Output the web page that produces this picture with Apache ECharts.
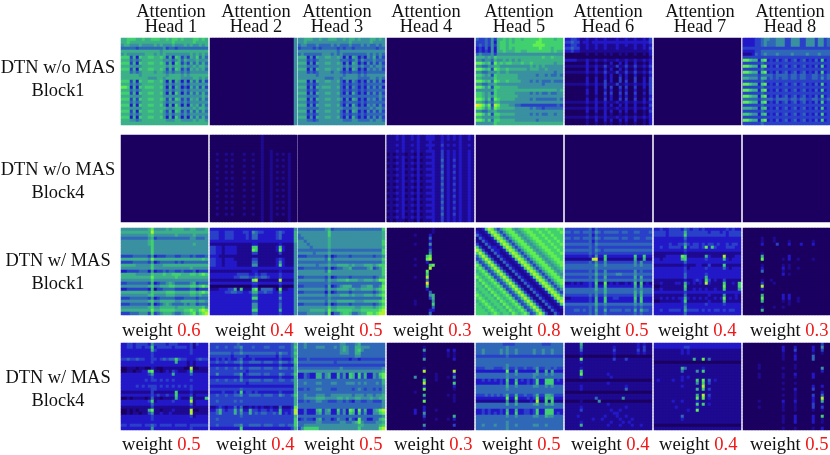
<!DOCTYPE html>
<html>
<head>
<meta charset="utf-8">
<title>Attention heads</title>
<script src="https://cdn.jsdelivr.net/npm/echarts@6/dist/echarts.min.js"></script>
<style>
  html, body { margin: 0; padding: 0; background: #fff; }
  #main { width: 830px; height: 455px; }
</style>
</head>
<body>
<div id="main"></div>
<script>
const headNames = ['Head 1', 'Head 2', 'Head 3', 'Head 4', 'Head 5', 'Head 6', 'Head 7', 'Head 8']
const rowNames = ['DTN w/o MAS\nBlock1', 'DTN w/o MAS\nBlock4', 'DTN w/ MAS\nBlock1', 'DTN w/ MAS\nBlock4']
const weightsBlock1 = ['0.6', '0.4', '0.5', '0.3', '0.8', '0.5', '0.4', '0.3']
const weightsBlock4 = ['0.5', '0.4', '0.5', '0.3', '0.5', '0.4', '0.4', '0.5']

// 每个单元格一个等级 0-a（36进制），从图上估读，空格只是为了好数
const noMasB1H1 = ['66777 66766 77766 76776 76667 7676', '66766 66666 66666 66766 66667 6666', '56655 56555 56565 55655 56565 5656', '44444 34444 44445 34434 44444 4444', '66666 66666 66656 66666 66666 6666', '56555 55566 65656 55555 55565 6565', '77736 27667 76676 36276 35365 7464', '66645 45666 66665 55456 46555 6555', '77736 27667 76676 36276 35364 6464', '66655 55666 66666 56566 56556 5665', '77736 27667 76676 36376 35365 6564', '66645 45666 65665 45455 45455 5555', '66666 65666 66666 56666 56566 6666', '66666 66665 55665 66666 55556 6565', '77736 27667 76675 26265 25264 6363', '66645 45666 66665 45455 45455 5555', '88726 27677 76675 26265 24264 6363', '66645 45666 66665 45455 45455 5555', '77736 27667 76675 26275 25364 6464', '66655 55666 66665 55555 55555 5565', '77736 37667 76676 36376 35365 6464', '66645 45666 66665 45555 45455 5555', '77726 27667 76675 26275 25265 6464', '66655 55666 66666 55566 55556 5665', '77736 27667 76675 36276 35364 6464', '66645 45666 66665 45455 45455 5555', '77726 27667 76675 26275 25264 6464', '66655 45666 66666 55566 55556 5665', '66666 66666 66666 66666 66666 6666']
const noMasB1H2 = ['00000 00000 00000 00000 00000 0005']
const noMasB1H3 = ['55666 55655 66655 65665 65556 6565', '55655 55555 55555 55655 55556 5555', '45544 45444 45454 44544 45454 4545', '34444 34344 44434 34434 44444 4344', '55555 55555 55545 55555 55555 5555', '45444 44455 54545 44444 44454 5454', '66625 26556 65565 25265 24254 6353', '55534 34555 55554 44345 35444 5444', '66625 26556 65565 25265 24253 5353', '55544 44555 55555 45455 45445 4554', '66625 26556 65565 25265 24254 5453', '55534 34555 54554 34344 34344 4444', '55555 54555 55555 45555 45455 5555', '55555 55554 44554 55555 44445 5454', '66625 26556 65564 25254 24253 5352', '55534 34555 55554 34344 34344 4444', '66625 26566 65564 25254 24253 5352', '55534 34555 55554 34344 34344 4444', '66625 26556 65564 25264 24253 5353', '55544 44555 55554 44444 44444 4454', '66625 26556 65565 25265 24254 5353', '55534 34555 55554 34444 34344 4444', '66625 26556 65564 25264 24254 5353', '55544 44555 55555 44455 44445 4554', '66625 26556 65564 25265 24253 5353', '55534 34555 55554 34344 34344 4444', '66625 26556 65564 25264 24253 5353', '55544 34555 55555 44455 44445 4554', '55555 55555 55555 55555 55555 5555']
const noMasB1H4 = ['0']
const noMasB1H5 = ['43343 53667 67677 67777 78777 7677', '33343 52677 67677 77777 88777 7777', '34343 53677 67777 77778 88877 7777', '23242 52677 67677 77777 78777 6777', '23232 52667 66677 66777 77777 6766', '45444 53555 55555 55555 55555 5555', '66656 57666 66666 66666 66766 7666', '55455 46556 56565 66666 66666 6666', '88767 38676 77666 76676 66666 6566', '55445 56655 55555 55565 65655 5555', '88767 38766 76666 66566 65565 5555', '55445 55655 65555 55555 55555 5455', '77656 37666 66665 55555 45545 4454', '66555 57666 66665 55555 55555 5555', '88767 48766 76666 55545 45444 5444', '55445 56555 55555 55555 55455 5555', '88757 37766 66665 55555 55555 5555', '55555 57666 66666 66666 66666 6656', '77656 37666 66655 55545 45445 4455', '77656 57666 66665 55555 55555 5555', '88757 38766 66655 55545 44444 4454', '66545 46655 55555 55555 55555 5555', 'a9868 39866 65544 33333 33333 3343', '88757 48766 66655 55545 44344 4444', '55445 56555 55555 55555 55555 5555', '88757 37766 66655 55545 45445 5455', '66555 56655 55555 55555 55555 5555', '88757 47766 66655 55555 45555 5555', '55555 57666 66666 66666 66666 6666']
const noMasB1H6 = ['22332 11211 21121 11211 21121 1213', '33433 12212 22222 22222 22222 2223', '22332 11211 21121 11211 21121 1212', '33433 11211 21121 11211 11121 1213', '22322 11111 11111 11111 11111 1112', '00000 00100 10010 10010 10010 0102', '00000 00000 00000 00000 00000 0001', '22221 11211 21121 11211 21121 1212', '00000 00200 10010 20020 20020 0102', '11111 11211 21131 11311 31131 1213', '00000 00200 20020 20020 20020 0102', '11111 11211 21131 11311 31131 1213', '00000 00100 10020 20020 20020 0102', '00000 00200 20020 20030 20030 0203', '00000 00200 20030 20030 30030 0203', '11111 11211 21131 11311 21121 1213', '00000 00100 20030 30030 30030 0203', '00000 00200 20020 20020 20020 0103', '00000 00200 20030 30030 30030 0203', '00000 00100 10020 20020 20020 0102', '00000 00200 20030 20030 30030 0203', '11111 11211 21121 11211 21121 1212', '00000 00100 20020 20020 20020 0103', '11111 11211 21121 11211 21121 1212', '00000 00200 20020 20020 20020 0103', '00000 00100 10020 10010 10010 0102', '11111 11211 21121 11211 21121 1212', '00000 00100 20020 20020 20020 0102', '00000 00100 10010 10010 10010 0102']
const noMasB1H7 = ['0']
const noMasB1H8 = ['22223 34554 45553 35553 35553 5534', '22223 34544 45553 35553 35553 5534', '22223 34544 45553 35553 35553 5534', '33333 33333 33333 33333 33333 3333', '22223 34444 44444 44444 44444 4444', '11124 34544 45444 45444 45444 5444', '33333 33333 33333 33333 33333 3333', '88766 27823 24234 23423 42324 2723', '33333 34333 33333 33333 33333 3333', '88766 27823 24234 23423 42324 2723', '33333 34333 33333 33333 33333 3333', '88766 27823 24234 23423 42324 2723', '44444 34444 34444 34434 43344 3434', '66555 36634 34344 34434 43344 3534', '33333 34333 33333 33333 33333 3333', '88766 27823 24234 23423 42324 2723', '33333 34333 33333 33333 33333 3333', '88766 27823 24234 23423 42324 2723', '33333 34333 33333 33333 33333 3333', '88766 27823 24234 23423 42324 2723', '44444 34444 34444 34434 43344 3434', '88766 27823 24234 23423 42324 2723', '33333 34333 33333 33333 33333 3333', '66655 26723 24234 23423 42324 2723', '33333 34333 33333 33333 33333 3333', '77655 26723 24234 23423 42324 2723', '33333 33333 33333 33333 33333 3333', '88766 27823 24234 23423 42324 2723', '33333 34333 33333 33333 33333 3333']

const noMasB4H1 = ['0']
const noMasB4H2 = ['00000 00000 00000 00100 00000 0000', '00000 00000 00000 00100 00000 0000', '00000 00000 00000 00100 00000 0000', '00000 00000 00000 00100 00000 0000', '00000 00000 00000 00100 00000 0000', '00000 00000 00000 00100 10000 0000', '00100 10100 01001 00100 10101 0100', '00000 00000 00000 00100 10000 0100', '00100 10100 01001 00100 10101 0100', '00000 00000 00000 00100 10000 0100', '00100 10100 01001 00100 10101 0100', '00000 00000 00000 00100 10000 0100', '00100 10100 01001 00100 10101 0100', '00000 00000 00000 00100 10000 0100', '00100 10100 01001 00100 10101 0100', '00000 00000 00000 00100 10000 0100', '00100 10100 01001 00100 10101 0100', '00000 00000 00000 00100 10000 0100', '00100 10100 01001 00100 10101 0100', '00000 00000 00000 00100 10000 0100', '00100 10100 01001 00100 10101 0100', '00000 00000 00000 00100 10000 0100', '00100 10100 01001 00100 10101 0100', '00000 00000 00000 00100 10000 0100', '00100 10100 01001 00100 10101 0100', '00000 00000 00000 00100 10000 0100', '00100 10100 01001 00100 10101 0100', '00000 00000 00000 00100 10000 0100', '00000 00000 00000 00100 10000 0100']
const noMasB4H3 = ['0']
const noMasB4H4 = ['11121 21121 21122 21121 21212 1121', '11121 21121 21122 21121 21212 1121', '11111 21111 21112 11121 11112 1111', '11121 21121 21122 21131 21212 1121', '11111 21111 21112 11121 11112 1111', '11121 21121 21122 21131 21212 1121', '01011 10110 20111 21131 21212 1121', '11121 21121 21122 21131 21212 1121', '01011 20110 20111 21141 21312 1121', '11121 21121 21122 21131 21212 1121', '01011 20110 20111 21141 21312 1121', '11121 21121 21122 21131 21212 1121', '01011 20110 20111 21141 21312 1121', '11121 21121 21122 21131 21212 1121', '01011 20110 20111 21141 21312 1121', '11121 21121 21122 21131 21212 1121', '01011 20110 20111 21141 21312 1121', '11121 21121 21122 21131 21212 1121', '01011 20110 20111 21141 21312 1121', '11121 21121 21122 21131 21212 1121', '01011 20110 20111 21141 21312 1121', '11121 21121 21122 21131 21212 1121', '01011 20110 20111 21141 21312 1121', '11121 21121 21122 21131 21212 1121', '01011 20110 20111 21141 21312 1121', '11121 21121 21122 21131 21212 1121', '01011 20110 20111 21141 21312 1121', '11121 21121 21122 21131 21212 1121', '01011 10110 20111 21131 21212 1121']
const noMasB4H5 = ['0']
const noMasB4H6 = ['0']
const noMasB4H7 = ['0']
const noMasB4H8 = ['0']

const masB1H1 = ['55555 55556 85555 65666 65566 5556', '66666 66666 96666 66666 66666 6666', '55555 55556 75555 55565 55556 5555', '44444 44445 63444 44444 44455 4445', '55555 55556 75555 55555 55555 5555', '55555 55556 75555 55555 55556 5555', '55555 55555 75555 55555 55555 5555', '55555 55555 75555 55555 55555 5555', '55555 55555 75555 55555 55555 5555', '33334 44443 52333 44433 44434 3334', '66666 66665 86666 66666 66666 6676', '33334 44443 52344 44434 34444 4444', '66666 55555 75556 66666 66666 6666', '55555 55555 75555 55555 55565 5555', '22333 34442 52334 34433 43334 2333', '66666 55555 76667 66777 66677 6787', '66666 66666 86666 66676 66666 6666', '55555 55555 75555 55555 55555 5555', '33444 44443 62344 56544 44456 3444', '55555 55556 75566 67766 66677 6787', '22333 33332 61334 44433 33344 2333', '66666 66665 76666 77766 66677 6787', '55555 55556 75555 66655 55566 5655', '33344 44443 52344 44433 34444 3444', '55555 55556 75566 66655 66666 5665', '33344 44443 62345 65444 45455 3444', '55555 55556 75566 66656 66666 6675', '66666 66666 86677 77766 67787 6898', '33344 45553 73456 66544 56678 5789']
const masB1H2 = ['22222 22222 22222 22222 22222 2225', '33322 33322 23325 43322 22343 2226', '33322 33322 22324 42222 22342 2226', '33322 33322 22324 42222 22342 2226', '22222 22222 22222 22222 22222 2226', '11111 11111 11112 21111 11121 1115', '33221 22221 11117 71111 11272 1115', '33221 22221 11118 71111 11282 1115', '33221 22221 11113 31111 11131 1115', '22211 11111 11111 11111 11111 1115', '33221 22211 11113 31111 11232 1115', '33221 22221 11114 41111 11252 1115', '33221 22221 11115 51111 11272 1115', '22222 22222 22222 22222 22222 2225', '11111 11111 11112 21111 11121 1115', '22222 22223 33322 32332 22232 2225', '22222 22233 44433 43443 22232 2225', '11111 11111 11118 91111 11191 1115', '22222 22222 22223 32222 22232 2225', '00000 00000 00002 20000 00020 0005', '11122 23361 71117 81444 42081 1225', '22222 33443 32236 63343 32252 2225', '22222 22222 22224 42222 22232 2225', '22222 22222 22227 72222 22252 2225', '22222 22222 22223 32222 22232 2225', '22222 22222 22225 52222 22242 2225', '22222 22222 22225 52222 22242 2225', '22222 22222 22227 72222 22262 2225', '22222 22222 22224 42222 22232 2225']
const masB1H3 = ['44444 44445 63444 44444 44444 4447', '55555 55555 75555 55555 55555 5556', '45555 55555 75555 55555 55555 5556', '44555 55555 65555 55555 55555 5556', '55455 55555 65555 55555 55555 5557', '55545 55555 65555 55555 55555 5557', '55554 55555 65555 55555 55555 5556', '44444 44444 54444 44444 44444 4447', '55555 45555 65555 55555 55555 5557', '33344 44443 52344 44344 44444 3445', '55555 55554 74555 55555 55555 5557', '44444 44444 54444 44444 44444 4446', '55555 54555 65566 66565 55666 5677', '33444 44443 52344 55644 44456 3457', '55555 55554 75555 55555 55555 5557', '55555 55555 65555 55555 55555 5557', '33444 44443 52344 44344 44444 3456', '55555 55554 65566 67666 55666 5688', '44444 44444 54444 44444 44444 4447', '33444 44443 62345 66644 45566 4458', '55555 55554 65566 66565 56666 5678', '33444 44442 52344 44344 44444 3457', '55555 55554 65556 66565 55666 5678', '44444 44444 54444 44444 44444 4447', '55555 55554 65566 66665 55666 6678', '33444 44443 52344 44344 44444 3457', '55555 55555 75566 66665 56666 5678', '55556 66665 86677 77766 67777 7789', '44455 55554 82446 77644 56688 7899']
const masB1H4 = ['00000 00000 00000 10000 00000 0000', '00000 00000 00000 10000 00000 0000', '00000 00001 00002 00000 00000 0000', '00000 00000 00004 00000 00000 0000', '00000 00000 00002 00000 00000 0000', '00000 00001 00005 00000 00000 0000', '00000 00000 00002 00000 00000 0000', '00000 00000 00004 00000 00000 0000', '00000 00000 00005 00000 00000 0000', '00000 00000 00078 00000 00000 0000', '00000 00001 00089 00000 00000 0000', '00000 00000 00020 00000 00000 0000', '00000 00001 00007 80000 00000 0000', '00000 00000 00009 00000 00000 0000', '00000 00000 00080 00000 00000 0000', '00000 00000 00070 00000 00000 0000', '00000 00001 00090 00000 00000 0000', '00000 00000 00040 00000 00000 0000', '00000 00000 000a0 00000 00000 0000', '00000 00000 00070 00000 00000 0000', '00000 00000 00020 00000 00000 0000', '00000 00000 00004 00000 00000 0000', '00000 00000 00005 60000 00000 0000', '00000 00000 00003 60000 00000 0000', '00000 00001 00000 50000 00000 0000', '00000 00001 00000 70000 00000 0000', '00000 00000 00000 40000 00000 0000', '00000 00000 00002 20000 00000 0000', '00000 00000 00004 00000 00000 0000']
const masB1H5 = ['11279 85357 88656 78877 87787 7787', '21127 98535 78865 67887 78778 7778', '42112 79853 57886 56788 77877 8777', '14211 27985 35788 65678 87787 7877', '11421 12798 53578 86567 88778 7787', '31142 11279 85357 88656 78877 8778', '73114 22127 98535 78865 67887 7877', '97311 42212 79853 57886 56788 7787', '79731 14211 27985 35788 65678 8778', '47973 11421 12798 53578 86567 8877', '34797 31142 11279 85357 88656 7887', '63479 73114 21127 98535 78865 6788', '86347 97311 42112 79853 57886 5678', '78634 79731 14211 27985 35788 6567', '67863 47973 11421 12798 53578 8656', '76786 34797 31142 11279 85357 8865', '87678 63479 73114 21127 98535 7886', '68767 86347 97311 42112 79853 5788', '76876 78634 79731 14211 27985 3578', '77687 67863 47973 11421 12798 5357', '67768 76786 34797 31142 11279 8535', '76776 87678 63479 73114 21127 9853', '87677 68767 86347 97311 42112 7985', '78767 76876 78634 79731 14211 2798', '67876 77687 67863 47973 11421 1279', '76787 67768 76786 34797 31142 1127', '77678 76776 87678 63479 73114 2112', '77767 87677 68767 86347 97311 4211', '77776 78767 76876 78634 79731 1421']
const masB1H6 = ['33333 33342 43333 33333 33333 3333', '44344 34443 54344 44434 43344 3334', '33333 33342 43333 33333 33333 3333', '44344 34443 54344 44434 43344 3344', '33333 33342 43333 33333 33333 3333', '44444 44443 54444 44444 44444 4444', '33333 33343 43333 33333 33333 3333', '44444 44443 54344 44444 44444 4444', '33333 33343 43333 33333 33333 3333', '22222 22232 52272 22222 22272 2722', '11111 11119 a1171 11111 11161 1611', '33333 33343 53353 33333 33353 5333', '44444 44444 64454 44444 44454 5444', '44444 44444 54444 44444 44444 4444', '33333 33343 53353 33333 33353 4333', '44444 44444 64454 44554 44454 4444', '33333 33343 53363 33333 33363 6333', '44444 44444 64454 44444 44454 5444', '11212 12232 71181 21211 21271 7121', '22222 22232 62272 22222 22262 6222', '44444 44444 64464 44444 44454 5444', '44444 44444 54464 44444 44464 6444', '33333 33343 53353 33333 33363 6333', '11222 22232 62272 23322 22272 7222', '22222 22232 62272 22222 22262 7222', '44444 44444 64454 44444 44454 5444', '33333 33343 53343 33333 33343 4333', '33344 34343 63363 44443 44363 6443', '33333 33343 53343 33333 33343 4333']
const masB1H7 = ['22322 33332 43233 23222 22223 2322', '33332 33333 63333 33323 33232 3333', '33332 33333 73333 33333 33332 3333', '22222 22222 42222 22222 22222 2222', '22222 22222 32222 22222 22222 2222', '22222 32233 53233 23233 23223 2332', '22322 33332 72333 23827 32223 3322', '22222 22222 32222 22222 22222 2222', '11111 11111 21111 11111 11111 1111', '11112 22228 71111 11621 11191 1122', '22122 22226 72222 22322 22262 1222', '22222 22222 42222 22222 22222 2222', '11111 11111 21112 21131 11171 1111', '22222 22222 31222 22322 22242 1222', '22222 22222 32222 22222 22222 2222', '22222 22222 42222 22322 22222 2222', '22222 22222 42222 22622 22222 2222', '11111 11111 21123 21731 21131 1111', '11211 11221 62121 21921 11171 1217', '00111 11111 71111 11111 11181 1117', '11211 11111 61121 21211 21171 1115', '22222 22222 32222 22222 22222 2222', '11111 11111 41111 11121 11151 1121', '11212 12122 62121 21211 21281 2121', '00111 11112 71111 11121 11161 1111', '22222 22222 42222 22322 22232 2222', '22222 22222 52222 22222 22222 2222', '22322 33332 63333 23232 33232 3322', '22222 22222 42222 22222 22222 2222']
const masB1H8 = ['00000 00000 00000 00000 00000 0000', '00000 00000 00000 00000 00000 0000', '00000 00000 00000 00000 00000 0000', '00000 01000 10000 00000 00000 0000', '00000 01000 10000 10000 00010 0000', '00000 02000 03000 20002 00020 0000', '00000 00000 00000 00000 00000 0000', '00000 00000 00000 00000 00000 0000', '00000 01000 00000 00000 00000 0000', '00000 06000 00000 20000 00000 0000', '00000 08000 00010 20010 00010 0000', '00000 00000 00000 00000 00000 0000', '00000 01000 00010 10000 00000 0000', '00000 02000 00020 10010 00000 0000', '00000 04000 00010 00000 00000 0000', '00000 00000 00020 10000 00000 0000', '00000 00000 00000 00000 00000 0000', '00000 01001 00000 00000 00000 0000', '00000 03000 10000 00000 00000 0000', '00000 09000 00000 00000 00000 0000', '00000 02000 00000 00000 00000 0000', '00000 00000 00000 00000 00000 0000', '00000 06000 00020 20000 00000 0000', '00000 08000 00020 20010 00000 0000', '00000 06000 00010 10010 00000 0000', '00000 00000 00000 10000 00000 0000', '00000 01000 10010 00000 00000 0000', '00000 06000 00000 00000 00000 0000', '00000 00000 00000 00000 00000 0000']

const masB4H1 = ['22332 33332 53333 23332 22231 3222', '22332 33233 72333 33233 33231 2222', '22222 22222 63222 22222 22232 2222', '22222 22222 32222 22222 22232 2222', '22222 22222 32222 22222 22222 2222', '33433 43322 33234 34474 33222 3433', '22222 22222 32222 22262 22121 2222', '22222 22222 22222 22222 22121 2222', '00111 01100 21001 11111 10090 0111', '00110 11227 81101 21321 11271 1111', '22222 22223 52222 22622 22242 2222', '22222 22222 32222 22222 22222 2222', '22222 22232 33232 32322 22232 2222', '22222 22222 22222 22222 22222 2222', '22222 32323 33232 32323 23232 2222', '22222 22222 33222 22222 22232 2222', '11111 11111 31111 11171 11121 1111', '22222 22222 32322 32272 22231 2222', '00101 11101 41101 11162 11171 1117', '22222 22223 71222 22322 22291 2222', '22222 22222 42222 22222 22241 2222', '11111 11111 31111 11111 11121 1111', '00101 01116 81101 11211 11190 0111', '00101 10113 51121 12111 11191 1111', '22222 22222 32222 22222 22231 2222', '22222 22222 32222 22222 22222 2222', '22222 22222 22222 22222 22222 2222', '33233 33233 43233 33233 33233 3333', '22222 22222 52222 22222 22232 2222']
const masB4H2 = ['33333 33334 33333 33333 33333 3346', '33433 43344 53334 33344 33344 3347', '33333 33333 43333 33333 33333 3346', '44444 44344 54444 44444 44354 4347', '33333 33233 33233 33333 33243 3346', '22323 23223 42223 22222 22232 2237', '33433 43344 53344 44344 43354 4347', '22222 22222 32222 22222 22232 2226', '33433 43343 53344 44344 43354 4346', '33333 33333 33233 33333 33333 3336', '33533 33344 62344 44344 33354 3347', '22222 22222 42222 22222 22232 2226', '33433 43343 53344 44344 43344 3346', '33333 33333 33233 33333 33333 3336', '22222 22222 22222 22222 22222 2226', '33333 33333 43333 33333 33333 3336', '22223 22232 72332 32222 22232 2226', '33433 43344 53344 44344 43354 3347', '33333 33333 33333 33333 33333 3336', '33433 33343 43333 33333 33333 3336', '33333 33333 33333 33333 33333 3336', '11232 12242 41121 21211 21141 1128', '22463 23363 62263 32332 32262 2239', '33463 33363 53363 43443 34362 3239', '33333 33333 43333 33333 33333 3336', '33433 33333 33333 33333 33333 3337', '33333 33333 33333 33333 33333 3337', '33433 33344 53344 44344 43344 3447', '22222 22222 72222 22222 22222 2236']
const masB4H3 = ['44544 44444 44445 54445 64444 4444', '44544 45554 44545 65446 65554 4444', '44444 44444 44445 65446 75444 4444', '44444 44444 44445 55446 64444 4444', '44444 44444 44444 44445 54444 4444', '33343 33333 33333 33233 23333 3333', '44444 44444 44344 44444 44444 4444', '33333 33333 33333 33333 33333 3333', '44444 44444 44445 44444 44444 4445', '55555 55555 55555 55555 55555 5556', '22432 26635 62263 52762 73622 5478', '22432 26635 62263 52762 73622 5468', '44444 44444 44444 44444 44444 4446', '44544 45544 45544 45554 54544 4546', '44444 44444 44444 44444 44444 4445', '33434 45544 43344 44434 54344 3435', '44444 44444 44444 44444 44444 4445', '44544 45554 45555 55545 55455 4556', '44555 56665 55566 56556 65556 5566', '33434 45544 33344 34324 43344 3335', '44444 44444 44444 44444 44444 4445', '44444 44444 44444 44444 44444 4445', '22422 26735 62273 52872 83622 5689', '22422 25635 52263 52762 73522 5578', '44444 44444 44444 44444 44444 4445', '23433 25634 42354 42532 84422 4467', '44444 45544 44445 54456 85444 4556', '44555 55555 55555 55555 66555 5567', '35777 77555 55555 55555 75555 5589']
const masB4H4 = ['00000 00000 00000 00000 00000 0000', '00000 00000 00100 00000 00000 0000', '00000 00000 00500 00000 20200 0000', '00000 00000 00100 00000 10100 0000', '00000 00000 00100 00000 10100 0000', '00000 00000 00500 00000 00200 0000', '00000 00000 00000 00000 00000 0000', '00000 00000 00000 00000 00000 0000', '00000 00000 00100 00000 00000 0000', '00000 00000 00900 00000 00900 0000', '00000 00000 00000 01000 00200 0000', '00000 00005 00100 01000 10500 0000', '00000 00000 00700 01000 00100 0000', '00000 00000 00900 00000 00700 0000', '00000 00000 00200 00000 00200 0000', '00000 00000 00800 00000 00100 0000', '00000 00001 00000 00000 00000 0000', '00000 00000 00600 00000 10100 0000', '00000 00000 00100 00000 00100 0000', '00000 00000 00800 00000 00100 0000', '00000 00000 00000 00000 00000 0000', '00000 00000 00200 00000 00000 0000', '00000 00002 00200 01000 00000 0000', '00000 00002 00500 00000 00000 0000', '00000 00000 00300 00000 00600 0000', '00000 00000 00100 01000 10200 0000', '00000 00000 00000 00000 00000 0000', '00000 00000 00500 00000 00300 0000', '00000 00000 00100 00000 00000 0000']
const masB4H5 = ['44444 44443 33344 44444 44333 4444', '44444 44444 54444 44444 44444 4444', '44544 44454 54454 44445 44544 5444', '44544 44454 54454 44445 44544 5444', '33333 33333 43333 33333 33333 3333', '44444 44444 44444 44444 44444 4444', '44444 44444 44444 44444 44444 4444', '44444 44444 54444 44444 44444 4444', '33344 43334 53343 34334 53344 3433', '22222 22222 82262 22222 62262 6222', '44444 44444 54454 44445 54454 5444', '44444 44444 54444 44445 44444 4444', '22323 23232 72262 32323 72277 7232', '22222 22232 62272 22323 72277 7222', '44444 44444 64454 44445 54454 5444', '44444 44444 54444 44444 44444 4444', '44444 44444 44444 44444 44444 4444', '33343 43434 63363 34334 63366 5333', '22222 22222 82282 22323 82276 7222', '11111 11111 51151 11121 91171 7111', '44444 44444 64464 44445 64465 6444', '44444 44444 44444 44444 44444 4444', '22323 22232 62262 23323 72277 7222', '22323 23232 72272 23323 72277 7232', '44444 44444 54454 44445 54465 5444', '44444 44444 44444 44444 44444 4444', '44444 44444 54444 44444 44444 4444', '44544 45444 54454 44445 54454 4444', '44444 44444 54444 44444 44444 4444']
const masB4H6 = ['11111 61111 11111 11111 11112 1211', '11111 51111 11111 12111 11112 1311', '11111 41111 11111 13111 11113 1311', '11111 21111 11111 12111 11112 1211', '00000 10000 00000 01000 00000 0000', '11111 81111 11111 13111 31111 1111', '11111 21111 11111 11111 11111 1111', '11111 11111 11111 11111 11111 1111', '11111 21111 11111 11111 11111 1111', '11111 71111 11111 11111 11111 1111', '11111 81111 11112 11111 11111 1111', '11111 21111 11111 21111 11111 1111', '00000 00000 00000 00000 00000 0000', '11111 11111 11112 11111 11111 1111', '11111 21111 11111 11111 21111 1111', '11111 21111 11111 11111 41111 1111', '00000 00000 00000 00000 00000 0000', '11111 11111 11111 11111 11111 1111', '11111 11111 41111 11115 11111 1111', '00000 10000 05000 00000 00000 0000', '11111 11111 11112 11111 11111 1111', '11111 21111 11111 11111 21111 1111', '11111 31111 11111 21121 11111 1111', '11111 11111 11111 12211 11111 1111', '11112 11111 11121 11211 21111 1111', '11111 11112 11211 11121 11211 1111', '11111 21111 11111 21112 12111 1111', '11111 61111 11112 11121 11211 2111', '11111 11111 11111 11111 11111 1111']
const masB4H7 = ['22222 22222 22222 22222 22222 2222', '22222 22222 33222 22222 22222 2222', '11111 11112 12111 11111 11111 1111', '11111 11112 12111 11111 11111 1111', '11111 11111 11111 11111 11111 1111', '11111 11111 11161 18141 11111 1111', '00000 00000 00000 00000 00000 0000', '11111 11111 11111 11111 11111 1111', '11111 11116 41111 12111 11111 1111', '11111 11114 11115 17111 11111 1111', '11111 11111 11111 11111 11111 1111', '11111 11112 12111 11111 11111 1111', '12111 12112 11117 18141 21111 1111', '11111 11111 11115 17131 11111 1111', '11111 11112 11111 19111 11111 1111', '11111 11111 11116 17131 11111 1111', '11111 11111 11111 11111 11111 1111', '11111 11111 11116 19131 11111 1111', '11111 11111 11118 18121 11111 1111', '11111 12112 11112 11111 11111 1111', '11111 11111 11117 17121 11111 1111', '11111 11211 11112 11111 11111 1111', '11111 11111 12118 11111 11111 1111', '11111 11111 11111 11111 11111 1111', '11111 11114 11111 11111 11111 1111', '11111 11112 11111 11111 11111 1111', '11111 11111 11111 11111 11111 1111', '00000 00000 00000 00000 00000 0000', '11111 11111 11111 11111 11111 1111']
const masB4H8 = ['00000 00000 00000 00000 00000 0300', '00000 00000 00020 00200 00020 0500', '00000 00000 00020 00300 00020 0300', '00000 00000 00010 00100 00010 0100', '00000 00000 00010 00200 00040 0000', '00000 00000 00010 00200 00040 0000', '00000 00000 00000 00000 00000 0000', '00000 10000 00000 00100 00000 0000', '00000 10000 00010 00100 00000 0500', '00000 00000 00000 00000 00000 0200', '00000 10000 00010 00200 00020 0000', '00000 10000 00010 00100 00020 0000', '00000 00000 00000 00000 00000 0000', '00000 00000 00010 00100 00000 0000', '00000 00000 00000 00000 00020 0200', '00000 00000 00010 00200 00030 0000', '00000 00000 00000 00100 00000 0200', '00000 00000 00010 00100 00030 0400', '00000 00000 00000 00100 00020 0900', '00000 10000 00020 00200 00020 0600', '00000 00000 00010 00100 00030 0100', '00000 10000 00010 00100 00030 0300', '00000 00000 00010 00100 00010 0100', '00000 00000 00000 00000 00000 0000', '00000 00000 00010 00200 00020 0700', '00000 00000 00010 00200 00020 0100', '00000 00000 00010 00200 00020 0100', '00000 00000 00000 00000 00000 0000', '00000 00000 00010 00100 00010 0200']

const panels = [
  [noMasB1H1, noMasB1H2, noMasB1H3, noMasB1H4, noMasB1H5, noMasB1H6, noMasB1H7, noMasB1H8],
  [noMasB4H1, noMasB4H2, noMasB4H3, noMasB4H4, noMasB4H5, noMasB4H6, noMasB4H7, noMasB4H8],
  [masB1H1, masB1H2, masB1H3, masB1H4, masB1H5, masB1H6, masB1H7, masB1H8],
  [masB4H1, masB4H2, masB4H3, masB4H4, masB4H5, masB4H6, masB4H7, masB4H8]
]

const colLeft = [121, 210, 298, 387, 476, 565, 654, 743]
const rowTop = [38, 135, 228, 343]
const panelSize = 87
const headCenter = [171, 256, 337, 426, 519, 608, 700, 790]
const weightLeft3 = [122, 215, 304, 393, 482, 570, 658, 750]
const weightLeft4 = [122, 216, 304, 394, 482, 571, 659, 750]
const rowLabelTop = [56, 158, 249, 366]
const rowLabelCenter = [58, 58, 58, 58]
// 原图面板边缘的淡紫色细条 [行, 列, 边]
const edgeStrips = [[0, 1, 'right'], [0, 7, 'left'], [1, 2, 'left'], [1, 3, 'left'], [1, 0, 'bottom'], [1, 1, 'bottom'], [1, 2, 'bottom'], [2, 2, 'right'], [2, 6, 'right'], [3, 2, 'right'], [3, 6, 'right'], [3, 1, 'bottom']]
const serifFont = '"Liberation Serif", serif'

const grids = []
const xAxes = []
const yAxes = []
const series = []
panels.forEach((row, r) => {
  row.forEach((rows, c) => {
    const index = grids.length
    const lines = rows.map(line => line.replace(/ /g, ''))
    const cols = lines[0].length
    const cells = []
    lines.forEach((line, y) => {
      for (let x = 0; x < cols; x++) {
        cells.push([x, y, parseInt(line[x], 36)])
      }
    })
    grids.push({ left: colLeft[c], top: rowTop[r], width: panelSize, height: panelSize })
    xAxes.push({ type: 'category', gridIndex: index, show: false, data: Array.from({ length: cols }, (v, i) => i) })
    yAxes.push({ type: 'category', gridIndex: index, show: false, inverse: true, data: lines.map((v, i) => i) })
    series.push({ type: 'heatmap', xAxisIndex: index, yAxisIndex: index, data: cells, silent: true, progressive: 0, animation: false })
  })
})

const texts = []
headNames.forEach((name, i) => {
  texts.push({
    type: 'text', x: headCenter[i], y: 5,
    style: { text: 'Attention\n' + name, font: '18.4px ' + serifFont, fill: '#111', align: 'center', lineHeight: 15 }
  })
})
rowNames.forEach((name, i) => {
  texts.push({
    type: 'text', x: rowLabelCenter[i], y: rowLabelTop[i],
    style: { text: name, font: '18.4px ' + serifFont, fill: '#111', align: 'center', lineHeight: 23.5 }
  })
})
const weightText = (left, top, value) => ({
  type: 'text', x: left, y: top,
  style: {
    text: 'weight {v|' + value + '}',
    font: '18.6px ' + serifFont,
    fill: '#111',
    rich: { v: { font: '18.6px ' + serifFont, fill: '#f01818' } }
  }
})
weightsBlock1.forEach((v, i) => texts.push(weightText(weightLeft3[i], 322, v)))
weightsBlock4.forEach((v, i) => texts.push(weightText(weightLeft4[i], 436, v)))
edgeStrips.forEach(([r, c, side]) => {
  const shape = side === 'bottom'
    ? { x: colLeft[c], y: rowTop[r] + panelSize - 1, width: panelSize, height: 1 }
    : { x: side === 'left' ? colLeft[c] - 1 : colLeft[c] + panelSize - 1, y: rowTop[r], width: 1, height: panelSize }
  texts.push({ type: 'rect', shape: shape, style: { fill: '#9c92c4' }, silent: true })
})

const myChart = echarts.init(document.getElementById('main'), null, { renderer: 'canvas' })
myChart.setOption({
  backgroundColor: '#ffffff',
  animation: false,
  tooltip: { show: false },
  grid: grids,
  xAxis: xAxes,
  yAxis: yAxes,
  visualMap: {
    show: false,
    type: 'continuous',
    min: 0,
    max: 10,
    seriesIndex: series.map((s, i) => i),
    inRange: {
      color: ['#1b0060', '#1e0a90', '#2318c8', '#2a40c8', '#3068b8', '#3a90a0', '#3cb088', '#40d070', '#60ee50', '#b0f030', '#f0e020']
    }
  },
  series: series,
  graphic: texts
})
</script>
</body>
</html>
